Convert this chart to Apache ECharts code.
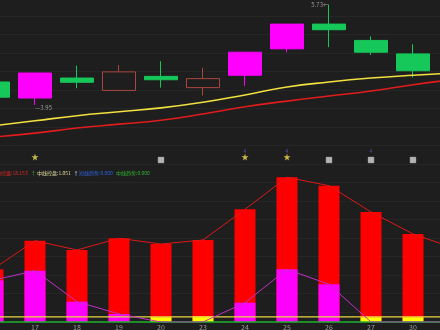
<!DOCTYPE html>
<html><head><meta charset="utf-8">
<script src="https://cdn.jsdelivr.net/npm/echarts@6/dist/echarts.min.js"></script>
<style>html,body{margin:0;padding:0;background:#1e1e1e}#c{width:440px;height:330px}</style>
</head><body><div id="c"></div>
<script>
// ---- data ----
const categories = ['14','17','18','19','20','23','24','25','26','27','30',''];
// [open, close, low, high]
const candles = [
  [4.36, 4.09, 4.09, 4.36],
  [4.075, 4.52, 3.95, 4.52],
  [4.43, 4.355, 4.25, 4.65],
  [4.21, 4.54, 4.21, 4.66],
  [4.46, 4.40, 4.26, 4.73],
  [4.26, 4.42, 4.12, 4.61],
  [4.48, 4.89, 4.29, 4.89],
  [4.95, 5.39, 4.89, 5.39],
  [5.39, 5.29, 4.98, 5.73],
  [5.10, 4.89, 4.84, 5.17],
  [4.86, 4.56, 4.44, 5.03],
  '-'
];
const candleKind = ['down','limit','down','up','down','up','limit','limit','down','down','down',null];
const maYellow = [3.58, 3.67, 3.76, 3.83, 3.90, 4.00, 4.13, 4.27, 4.36, 4.43, 4.48, 4.52];
const maRed    = [3.38, 3.45, 3.54, 3.61, 3.68, 3.79, 3.92, 4.02, 4.11, 4.20, 4.31, 4.41];
const starIdx = [1, 6, 7];
const squareIdx = [4, 8, 9, 10];
const markIdx = [6, 7, 9];
const markLevel = 3.13, starLevel = 3.025, squareLevel = 2.972;
const highLabel = {idx: 8, value: 5.73};
const lowLabel = {idx: 1, value: 3.95};

const redVals = [10.9, 16.76, 14.85, 17.26, 16.08, 16.91, 23.24, 29.84, 28.1, 22.68, 18.153, 15.15];
const magVals = [8.6, 10.58, 4.19, 1.65, 0, 0, 3.98, 10.87, 7.77, 0, 0, 0];
const yelBars = ['-', '-', '-', '-', 1.0, 1.15, '-', '-', '-', 1.0, 1.0, '-'];
const ctrlLine = 1.051;
const legendTexts = [
  {t: '主力控盘:18.153', c: '#e82828', x: -9},
  {t: '↑', c: '#40c040', x: 31},
  {t: '中线控盘:1.051', c: '#e0dca0', x: 37},
  {t: '↑', c: '#e0e0e0', x: 73.5},
  {t: '短线趋势:0.000', c: '#3060e0', x: 79},
  {t: '中线趋势:0.000', c: '#30b030', x: 116}
];

// ---- chart ----
const kindStyle = {
  down:  {color: '#16c85a', borderColor: '#16c85a', color0: '#16c85a', borderColor0: '#16c85a'},
  limit: {color: '#ff00ff', borderColor: '#ff00ff', color0: '#ff00ff', borderColor0: '#ff00ff'},
  up:    {color: 'rgba(0,0,0,0)', borderColor: '#a8463f', color0: 'rgba(0,0,0,0)', borderColor0: '#a8463f'}
};
const candleData = candles.map((v, i) => v === '-' ? '-' : {value: v, itemStyle: kindStyle[candleKind[i]]});
const ctrlData = categories.map(() => ctrlLine);
const zeroData = categories.map(() => 0);
const font = '"Noto Sans CJK SC", "Noto Sans", sans-serif';
const starPath = 'path://M50,0 L61,35 L98,35 L68,57 L79,91 L50,70 L21,91 L32,57 L2,35 L39,35 Z';

const chart = echarts.init(document.getElementById('c'), null, {renderer: 'canvas'});
chart.setOption({
  backgroundColor: '#1e1e1e',
  animation: false,
  textStyle: {fontFamily: font},
  grid: [
    {left: -28, width: 504, top: 0, height: 165, outerBoundsMode: 'none', containLabel: false},
    {left: -28, width: 504, top: 175, height: 147, outerBoundsMode: 'none', containLabel: false},
    {left: 0, right: 0, top: -2.5, height: 333, outerBoundsMode: 'none', containLabel: false}
  ],
  xAxis: [
    {type: 'category', gridIndex: 0, data: categories, show: false},
    {type: 'category', gridIndex: 1, data: categories, axisLine: {show: false}, axisTick: {show: false},
     axisLabel: {color: '#9a9a9a', fontSize: 7, margin: 2, interval: 0}},
    {type: 'value', gridIndex: 2, show: false, min: 0, max: 1}
  ],
  yAxis: [
    {type: 'value', gridIndex: 0, min: 2.883, max: 5.819, show: false},
    {type: 'value', gridIndex: 1, min: 0, max: 30.31, show: false},
    {type: 'value', gridIndex: 2, inverse: true, min: 0, max: 333, interval: 18.5,
     axisLine: {show: false}, axisTick: {show: false}, axisLabel: {show: false},
     splitLine: {show: true, lineStyle: {color: '#262626', width: 1}}}
  ],
  series: [
    {type: 'candlestick', xAxisIndex: 0, yAxisIndex: 0, barWidth: 34, data: candleData, z: 3},
    {type: 'line', xAxisIndex: 0, yAxisIndex: 0, data: maYellow, symbol: 'none', smooth: true,
     lineStyle: {color: '#f0e040', width: 1.6}, z: 4},
    {type: 'line', xAxisIndex: 0, yAxisIndex: 0, data: maRed, symbol: 'none', smooth: true,
     lineStyle: {color: '#e01c1c', width: 1.6}, z: 4},
    {type: 'scatter', xAxisIndex: 0, yAxisIndex: 0, symbol: starPath, symbolSize: 7,
     itemStyle: {color: '#f5e050'}, data: starIdx.map(i => [i, starLevel])},
    {type: 'scatter', xAxisIndex: 0, yAxisIndex: 0, symbol: 'rect', symbolSize: 6,
     itemStyle: {color: '#d8d8d8', borderColor: '#909090', borderWidth: 0.5}, data: squareIdx.map(i => [i, squareLevel])},
    {type: 'scatter', xAxisIndex: 0, yAxisIndex: 0, symbolSize: 0,
     label: {show: true, position: 'inside', formatter: '4', fontSize: 5, color: '#6a5ce0'},
     data: markIdx.map(i => [i, markLevel])},
    {type: 'scatter', xAxisIndex: 0, yAxisIndex: 0, symbolSize: 0,
     label: {show: true, position: 'left', distance: 0, formatter: p => p.value[1].toFixed(2) + '←', fontSize: 6, color: '#b8b8b8'},
     data: [[highLabel.idx, highLabel.value]]},
    {type: 'scatter', xAxisIndex: 0, yAxisIndex: 0, symbolSize: 0,
     label: {show: true, position: 'right', distance: 0, formatter: p => '—' + p.value[1].toFixed(2), fontSize: 6, color: '#b8b8b8', offset: [0, 3]},
     data: [[lowLabel.idx, lowLabel.value]]},

    {type: 'bar', xAxisIndex: 1, yAxisIndex: 1, data: redVals, barWidth: 21, barGap: '-100%',
     itemStyle: {color: '#ff0000'}, z: 2},
    {type: 'bar', xAxisIndex: 1, yAxisIndex: 1, data: magVals, barWidth: 21, barGap: '-100%',
     itemStyle: {color: '#ff00ff'}, z: 3},
    {type: 'bar', xAxisIndex: 1, yAxisIndex: 1, data: yelBars, barWidth: 21, barGap: '-100%',
     itemStyle: {color: '#ffff00'}, z: 3},
    {type: 'line', xAxisIndex: 1, yAxisIndex: 1, data: ctrlData, symbol: 'none',
     lineStyle: {color: '#e8d840', width: 1.2}, z: 5},
    {type: 'line', xAxisIndex: 1, yAxisIndex: 1, data: zeroData, symbol: 'none', clip: false,
     lineStyle: {color: '#20b030', width: 1.5}, z: 5},
    {type: 'line', xAxisIndex: 1, yAxisIndex: 1, data: redVals, symbol: 'none',
     lineStyle: {color: '#e01818', width: 1}, z: 6},
    {type: 'line', xAxisIndex: 1, yAxisIndex: 1, data: magVals, symbol: 'none',
     lineStyle: {color: '#c030c8', width: 1}, z: 6}
  ],
  graphic: legendTexts.map(l => ({
    type: 'text', x: l.x, y: 173,
    style: {text: l.t, fill: l.c, font: '5px ' + font, verticalAlign: 'middle', align: 'left'}
  }))
});
</script></body></html>
